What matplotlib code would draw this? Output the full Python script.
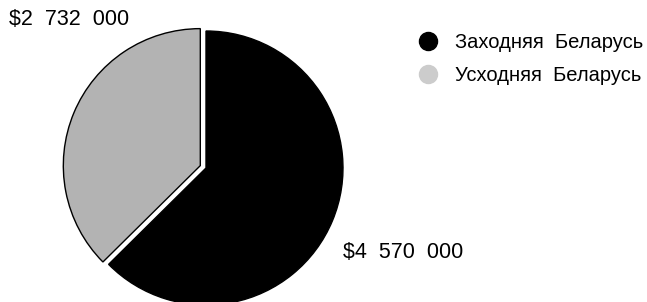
import matplotlib
matplotlib.use("Agg")
import matplotlib.pyplot as plt
from matplotlib.lines import Line2D

plt.rcParams['font.family'] = ['Liberation Sans', 'DejaVu Sans']

categories = ["Заходняя  Беларусь", "Усходняя  Беларусь"]
values = [4570000, 2732000]
value_labels = ["$4  570  000", "$2  732  000"]
slice_colors = ["#000000", "#b3b3b3"]
legend_colors = ["#000000", "#cccccc"]

W, H = 647, 302
fig = plt.figure(figsize=(W / 100, H / 100), dpi=100)

cx, cy, r = 206, 302 - 168, 137
half = 160
ax = fig.add_axes([(cx - half) / W, (cy - half) / H, 2 * half / W, 2 * half / H])

wedges, _ = ax.pie(values, colors=slice_colors, startangle=90, counterclock=False,
                   explode=[0, 0.045], radius=1,
                   wedgeprops=dict(edgecolor='black', linewidth=1.0))
for w in wedges:
    w.set_clip_on(False)
ax.set_xlim(-half / r, half / r)
ax.set_ylim(-half / r, half / r)
ax.set_aspect('equal')
ax.axis('off')

fs = 15.5
fig.text(9 / W, 1 - 19.5 / H, value_labels[1], fontsize=fs, ha='left', va='center')
fig.text(343 / W, 1 - 253 / H, value_labels[0], fontsize=fs, ha='left', va='center')

lfs = 14.5
handles = [Line2D([], [], marker='o', linestyle='none', markersize=13,
                  markerfacecolor=c, markeredgecolor=c) for c in legend_colors]
fig.legend(handles, categories, loc='upper left', bbox_to_anchor=(418 / W, 1 - 33 / H),
           frameon=False, fontsize=lfs, handlelength=1.0, handletextpad=0.85,
           labelspacing=0.68, borderpad=0, borderaxespad=0)

fig.savefig("out.png", dpi=100)
